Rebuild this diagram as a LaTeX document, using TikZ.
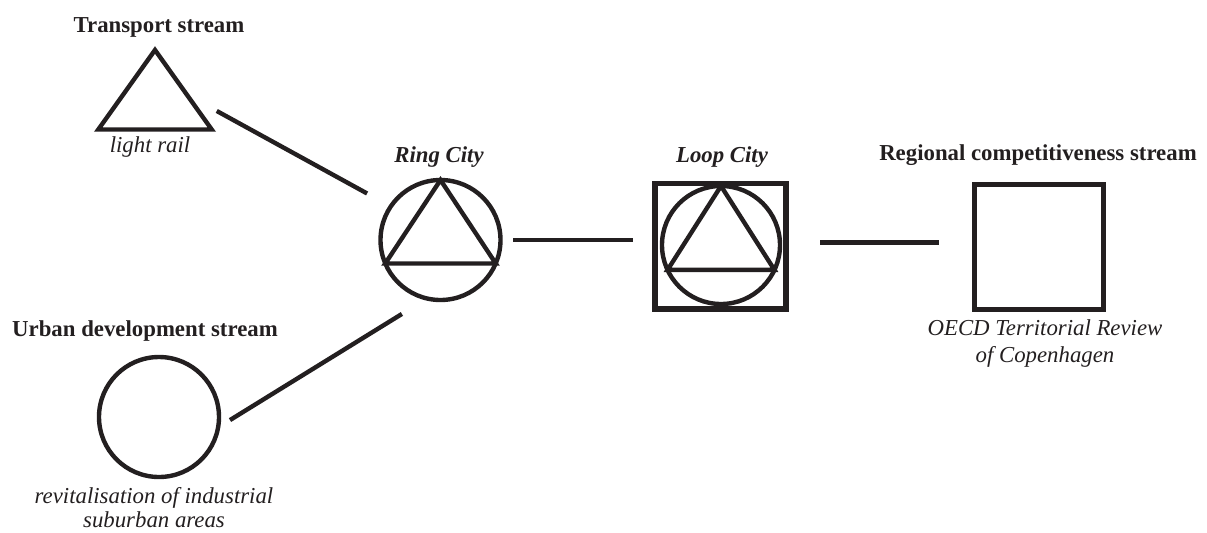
\documentclass[tikz,border=0pt]{standalone}
\usepackage{fontspec}
\setmainfont{Liberation Serif}
\usetikzlibrary{positioning}
\definecolor{ink}{RGB}{35,31,32}

\begin{document}
\begin{tikzpicture}[x=0.5pt,y=-0.5pt,inner sep=0pt,outer sep=0pt]
\tikzstyle{main}=[circle, minimum size=60pt, line width=2.2pt, draw=ink]
\tikzstyle{box}=[rectangle, line width=2.6pt, draw=ink]
\tikzstyle{tri}=[line width=2.2pt, draw=ink, line join=miter]
\tikzstyle{connect}=[line width=2.2pt, draw=ink]
\tikzstyle{head}=[font=\fontsize{11.4}{13.4}\selectfont\bfseries, text=ink, anchor=base]
\tikzstyle{headit}=[head, font=\fontsize{11.4}{13.4}\selectfont\bfseries\itshape]
\tikzstyle{note}=[font=\fontsize{11.4}{13.2}\selectfont\itshape, text=ink, align=center]
\useasboundingbox (0,0) rectangle (1207,532);
% symbols
\node[main,draw=none] (tram) at (155,110) {};
\node[main] (ring) at (440.5,240) {};
\node[main,minimum size=59pt] (loop) at (721,245) {};
\node[box,minimum width=65.5pt,minimum height=62.75pt] (loopsq) at (720.5,246.3) {};
\node[box,minimum width=64.5pt,minimum height=62.5pt] (region) at (1039,247) {};
\node[main] (urban) at (159,417) {};
\draw[tri] (tram.north) -- (tram.-19) -- (tram.-161) -- cycle;
\draw[tri] (ring.north) -- (ring.-23) -- (ring.-157) -- cycle;
\draw[tri] (loop.north) -- (loop.-25) -- (loop.-155) -- cycle;
% labels
\node[head] (tramlbl) at (159,32) {Transport stream};
\node[note,anchor=base] (tramnote) at (150,152) {light rail};
\node[headit] (ringlbl) at (439,162) {Ring City};
\node[headit] (looplbl) at (722,162) {Loop City};
\node[head] (regionlbl) at (1038,160) {Regional competitiveness stream};
\node[note,anchor=north] (regionnote) at (1045,320) {OECD Territorial Review\\of Copenhagen};
\node[head] (urbanlbl) at (145,336) {Urban development stream};
\node[note,anchor=north,font=\fontsize{11.4}{12.4}\selectfont\itshape] (urbannote) at (154,487) {revitalisation of industrial\\suburban areas};
% links
\draw[connect,shorten <=1pt,shorten >=13.5pt] (tram.east) -- (ring.146);
\draw[connect,shorten <=7pt,shorten >=14.75pt] (urban.-10) -- (ring.257);
\draw[connect,shorten <=6.25pt,shorten >=11pt] (ring.east) -- (ring.east -| loopsq.west);
\draw[connect,shorten <=17pt,shorten >=17.75pt] ([yshift=2pt]loopsq.east) -- ([yshift=2pt]loopsq.east -| region.west);
\end{tikzpicture}
\end{document}
